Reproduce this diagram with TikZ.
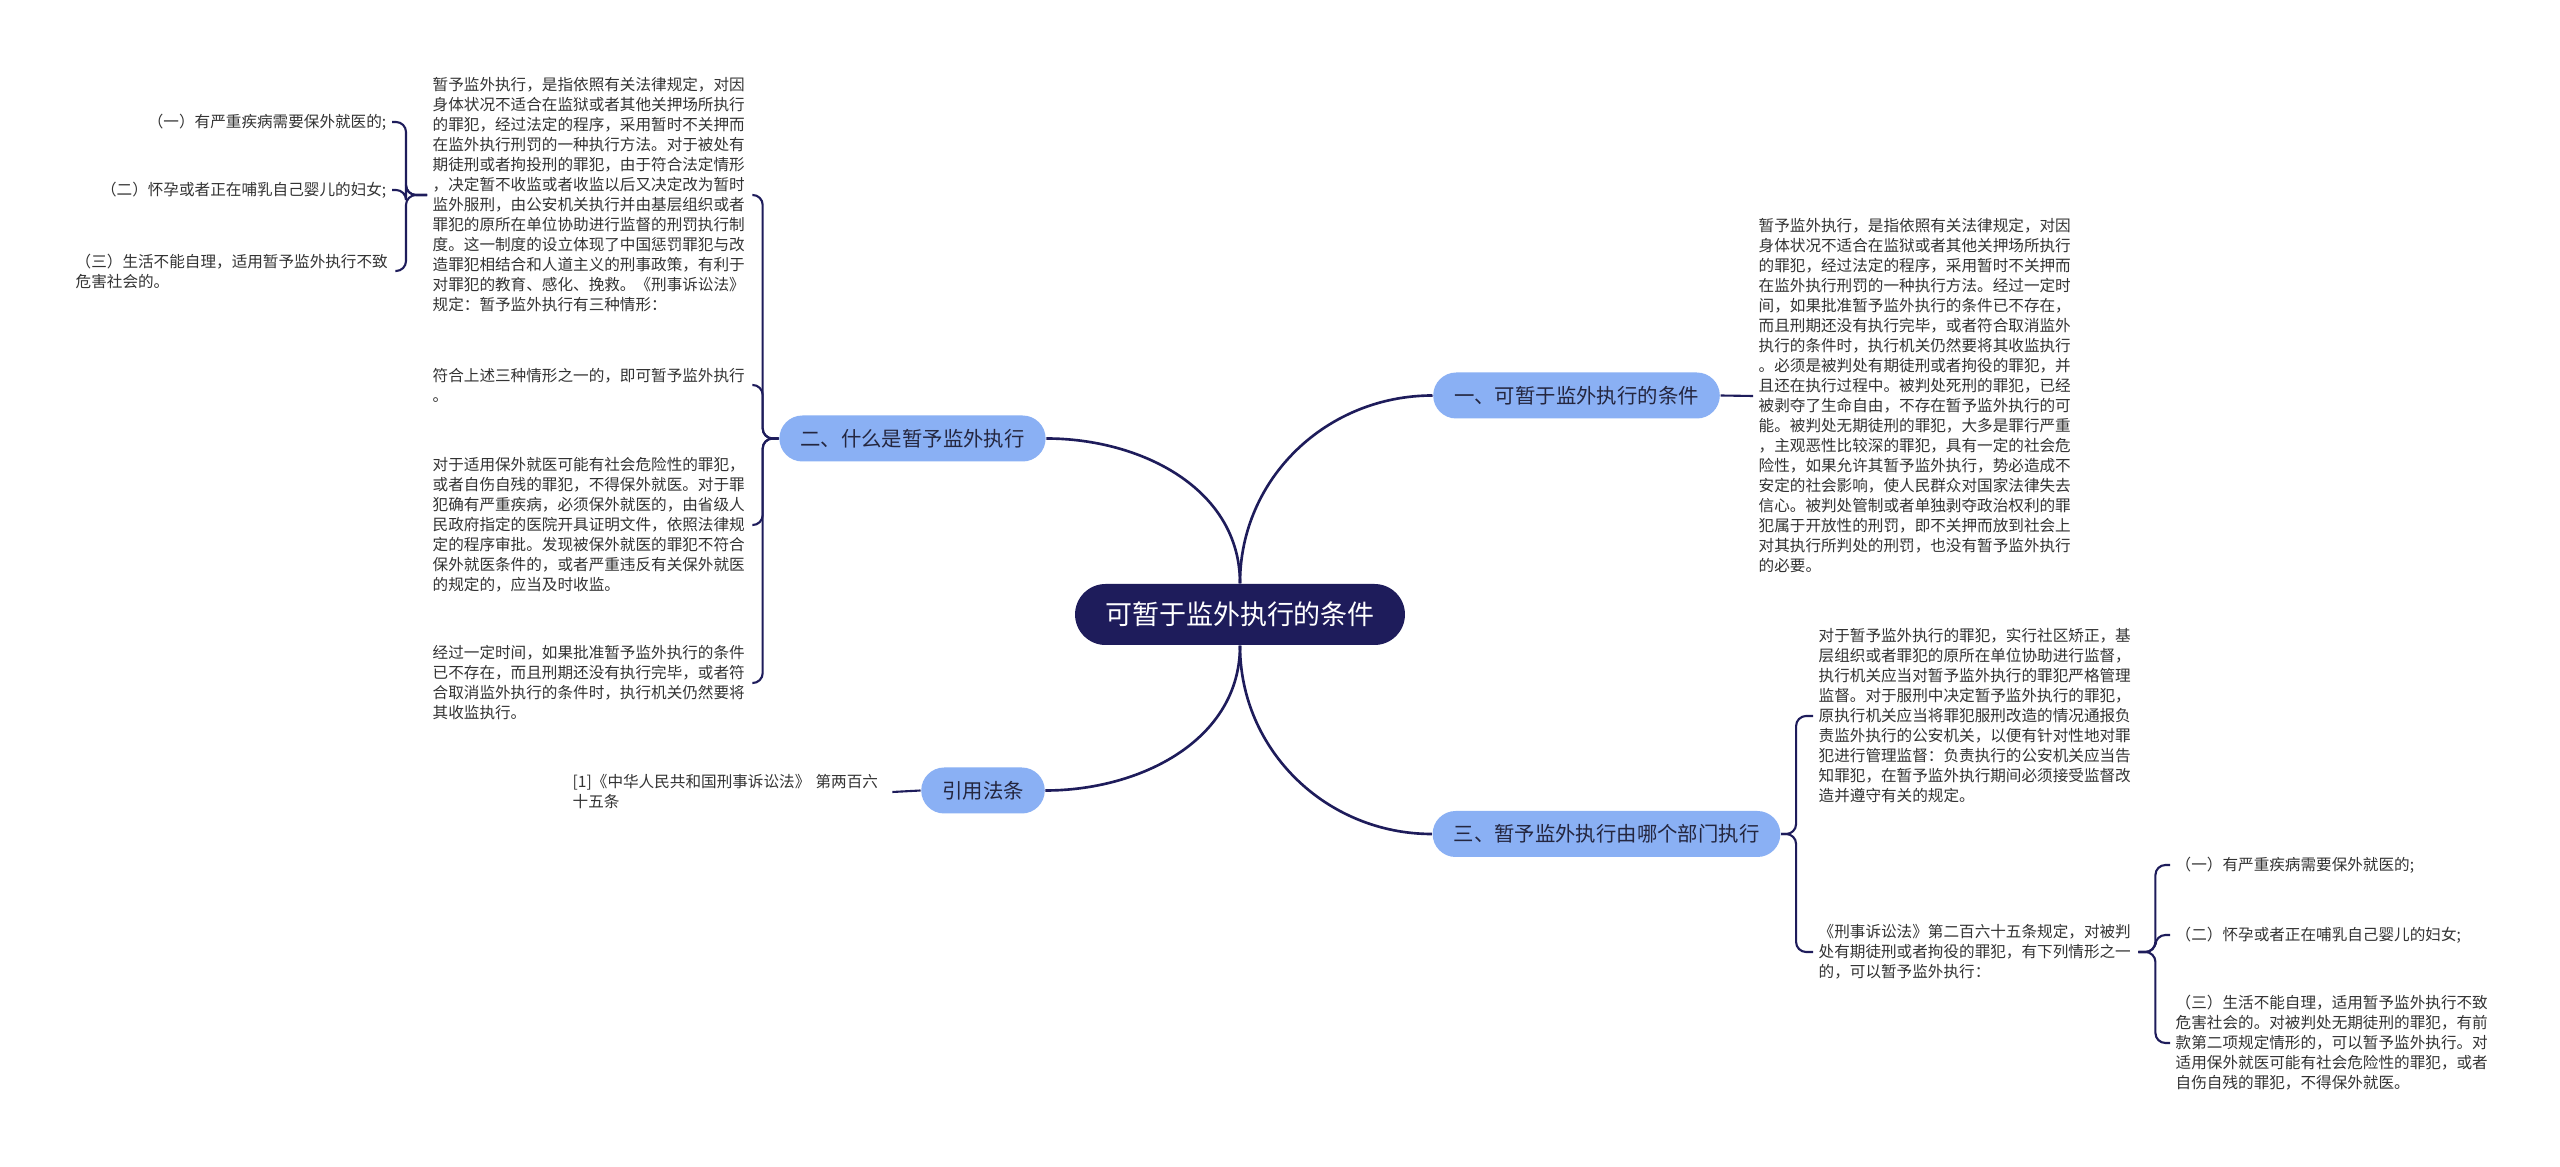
\documentclass[tikz,border=0pt]{standalone}
\usepackage{fontspec}
\setmainfont{Noto Sans CJK SC}
\definecolor{navy}{HTML}{1E1C5B}
\definecolor{subblue}{HTML}{8AB0F4}
\definecolor{subtext}{HTML}{24263F}
\definecolor{inkgray}{HTML}{333333}
\begin{document}
\begin{tikzpicture}[
          rootbox/.style={fill=navy, text=white, rounded corners=0.305cm, minimum height=0.61cm, inner xsep=0.3cm, font=\fontsize{7.68}{9}\selectfont},
          subbox/.style={fill=subblue, text=subtext, rounded corners=0.23cm, minimum height=0.46cm, inner xsep=0.21cm, font=\fontsize{5.8}{7}\selectfont},
          leaf/.style={text=inkgray, align=left, inner sep=0.05cm, font=\fontsize{4.44}{5.69}\selectfont},
          para/.style={leaf, text width=3.14cm},
          link/.style={draw=navy, line width=0.75pt},
          twig/.style={draw=navy, line width=0.6pt, rounded corners=0.1cm}]
        \fill[white] (0,0) rectangle (25.6,-11.67);
        \useasboundingbox (0,0) rectangle (25.6,-11.67);
        % centre and main branches
        \node[rootbox] (root) at (12.40,-6.145) {可暂于监外执行的条件};
        \node[subbox] (cond) at (15.765,-3.955) {一、可暂于监外执行的条件};
        \node[subbox] (what) at (9.125,-4.385) {二、什么是暂予监外执行};
        \node[subbox] (dept) at (16.065,-8.34) {三、暂予监外执行由哪个部门执行};
        \node[subbox] (cite) at (9.83,-7.905) {引用法条};
        % left side
        \node[para, anchor=west] (whatdef) at (4.27,-1.95) {暂予监外执行，是指依照有关法律规定，对因\\身体状况不适合在监狱或者其他关押场所执行\\的罪犯，经过法定的程序，采用暂时不关押而\\在监外执行刑罚的一种执行方法。对于被处有\\期徒刑或者拘投刑的罪犯，由于符合法定情形\\，决定暂不收监或者收监以后又决定改为暂时\\监外服刑，由公安机关执行并由基层组织或者\\罪犯的原所在单位协助进行监督的刑罚执行制\\度。这一制度的设立体现了中国惩罚罪犯与改\\造罪犯相结合和人道主义的刑事政策，有利于\\对罪犯的教育、感化、挽救。《刑事诉讼法》\\规定：暂予监外执行有三种情形：};
        \node[para, anchor=west] (whatone) at (4.27,-3.85) {符合上述三种情形之一的，即可暂予监外执行\\。};
        \node[para, anchor=west] (whatbail) at (4.27,-5.25) {对于适用保外就医可能有社会危险性的罪犯，\\或者自伤自残的罪犯，不得保外就医。对于罪\\犯确有严重疾病，必须保外就医的，由省级人\\民政府指定的医院开具证明文件，依照法律规\\定的程序审批。发现被保外就医的罪犯不符合\\保外就医条件的，或者严重违反有关保外就医\\的规定的，应当及时收监。};
        \node[para, anchor=west] (whatend) at (4.27,-6.83) {经过一定时间，如果批准暂予监外执行的条件\\已不存在，而且刑期还没有执行完毕，或者符\\合取消监外执行的条件时，执行机关仍然要将\\其收监执行。};
        \node[leaf, anchor=east] (lsick) at (3.92,-1.22) {（一）有严重疾病需要保外就医的;};
        \node[leaf, anchor=east] (lnurse) at (3.92,-1.90) {（二）怀孕或者正在哺乳自己婴儿的妇女;};
        \node[para, anchor=west] (lself) at (0.70,-2.71) {（三）生活不能自理，适用暂予监外执行不致\\危害社会的。};
        \node[para, anchor=west] (citetext) at (5.67,-7.92) {[1]《中华人民共和国刑事诉讼法》~第两百六\\十五条};
        % right side
        \node[para, anchor=west] (condtext) at (17.53,-3.96) {暂予监外执行，是指依照有关法律规定，对因\\身体状况不适合在监狱或者其他关押场所执行\\的罪犯，经过法定的程序，采用暂时不关押而\\在监外执行刑罚的一种执行方法。经过一定时\\间，如果批准暂予监外执行的条件已不存在，\\而且刑期还没有执行完毕，或者符合取消监外\\执行的条件时，执行机关仍然要将其收监执行\\。必须是被判处有期徒刑或者拘役的罪犯，并\\且还在执行过程中。被判处死刑的罪犯，已经\\被剥夺了生命自由，不存在暂予监外执行的可\\能。被判处无期徒刑的罪犯，大多是罪行严重\\，主观恶性比较深的罪犯，具有一定的社会危\\险性，如果允许其暂予监外执行，势必造成不\\安定的社会影响，使人民群众对国家法律失去\\信心。被判处管制或者单独剥夺政治权利的罪\\犯属于开放性的刑罚，即不关押而放到社会上\\对其执行所判处的刑罚，也没有暂予监外执行\\的必要。};
        \node[para, anchor=west] (deptwatch) at (18.13,-7.16) {对于暂予监外执行的罪犯，实行社区矫正，基\\层组织或者罪犯的原所在单位协助进行监督，\\执行机关应当对暂予监外执行的罪犯严格管理\\监督。对于服刑中决定暂予监外执行的罪犯，\\原执行机关应当将罪犯服刑改造的情况通报负\\责监外执行的公安机关，以便有针对性地对罪\\犯进行管理监督：负责执行的公安机关应当告\\知罪犯，在暂予监外执行期间必须接受监督改\\造并遵守有关的规定。};
        \node[para, anchor=west] (deptlaw) at (18.13,-9.52) {《刑事诉讼法》第二百六十五条规定，对被判\\处有期徒刑或者拘役的罪犯，有下列情形之一\\的，可以暂予监外执行：};
        \node[leaf, anchor=west] (rsick) at (21.70,-8.65) {（一）有严重疾病需要保外就医的;};
        \node[leaf, anchor=west] (rnurse) at (21.70,-9.35) {（二）怀孕或者正在哺乳自己婴儿的妇女;};
        \node[para, anchor=west] (rself) at (21.70,-10.43) {（三）生活不能自理，适用暂予监外执行不致\\危害社会的。对被判处无期徒刑的罪犯，有前\\款第二项规定情形的，可以暂予监外执行。对\\适用保外就医可能有社会危险性的罪犯，或者\\自伤自残的罪犯，不得保外就医。};
        % connectors
        \draw[link] (root.north) to[out=90, in=180] (cond.west);
        \draw[link] (root.north) to[out=90, in=0] (what.east);
        \draw[link] (root.south) to[out=-90, in=180] (dept.west);
        \draw[link] (root.south) to[out=-90, in=0] (cite.east);
        \draw[twig] (cond.east) -- (condtext.west);
        \draw[twig] (cite.west) -- (citetext.east);
        \draw[twig] (what.west) -- ++(-0.16,0) |- (whatdef.east);
        \draw[twig] (what.west) -- ++(-0.16,0) |- (whatone.east);
        \draw[twig] (what.west) -- ++(-0.16,0) |- (whatbail.east);
        \draw[twig] (what.west) -- ++(-0.16,0) |- (whatend.east);
        \draw[twig] (whatdef.west) -- ++(-0.21,0) |- (lsick.east);
        \draw[twig] (whatdef.west) -- ++(-0.21,0) |- (lnurse.east);
        \draw[twig] (whatdef.west) -- ++(-0.21,0) |- (lself.east);
        \draw[twig] (dept.east) -- ++(0.15,0) |- (deptwatch.west);
        \draw[twig] (dept.east) -- ++(0.15,0) |- (deptlaw.west);
        \draw[twig] (deptlaw.east) -- ++(0.17,0) |- (rsick.west);
        \draw[twig] (deptlaw.east) -- ++(0.17,0) |- (rnurse.west);
        \draw[twig] (deptlaw.east) -- ++(0.17,0) |- (rself.west);
\end{tikzpicture}
\end{document}
